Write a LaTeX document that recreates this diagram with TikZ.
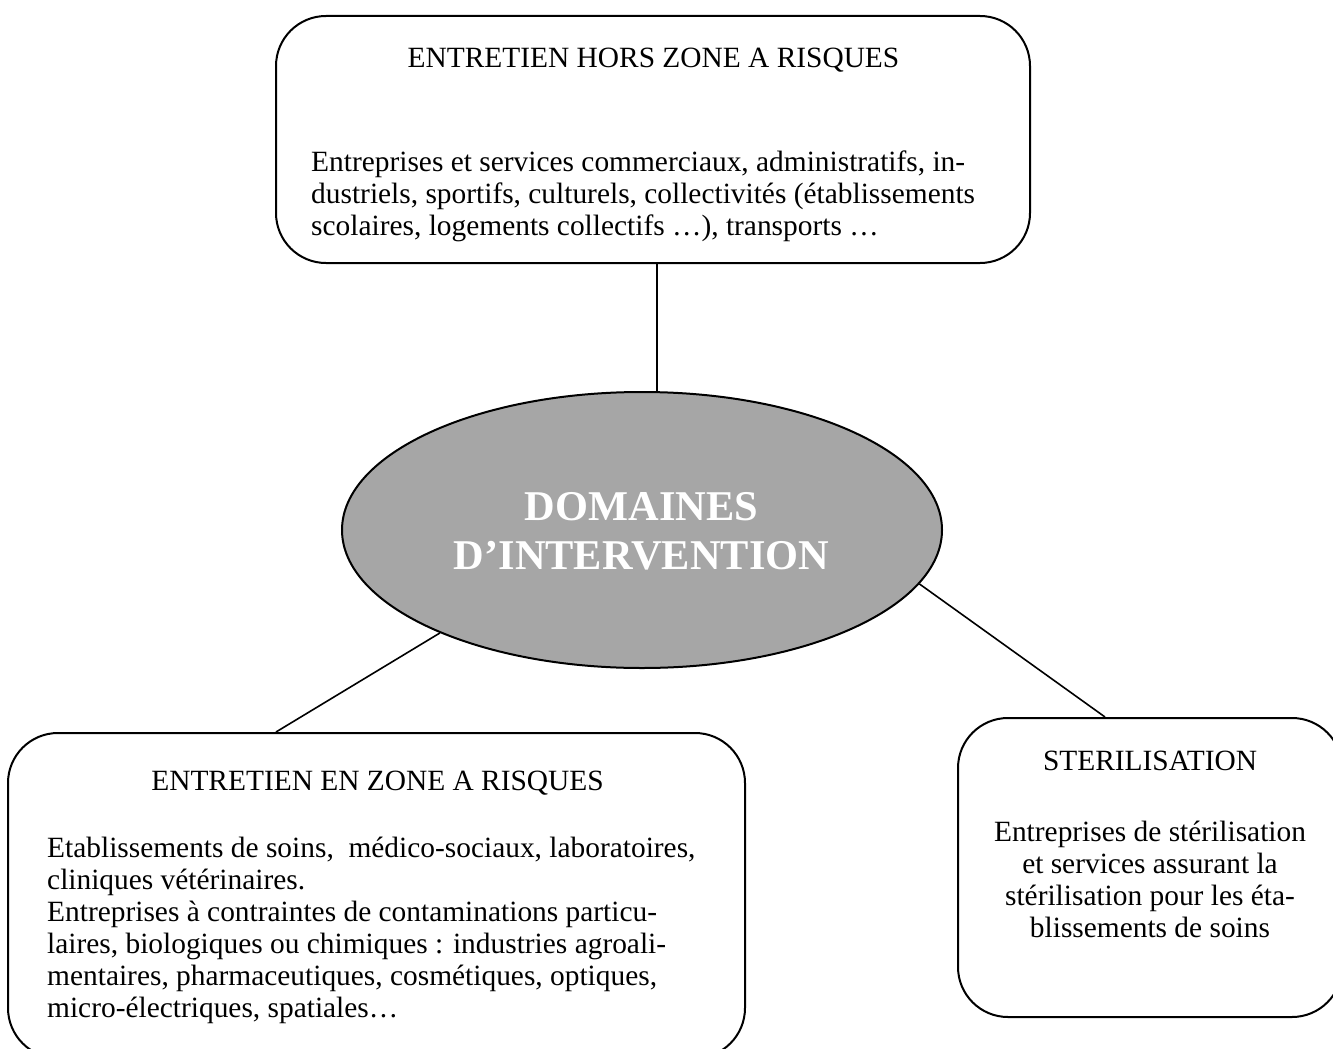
\documentclass[tikz,border=0pt]{standalone}
\usepackage{fontspec}
\setmainfont{Liberation Serif}
\usetikzlibrary{shapes.geometric,calc}
\definecolor{ellgray}{RGB}{166,166,166}
\begin{document}
\begin{tikzpicture}[x=1pt,y=-1pt,
  box/.style={draw,line width=2pt,rounded corners=50pt,inner sep=0pt},
  conn/.style={draw,line width=1.6pt},
  txt/.style={inner sep=0pt,font=\fontsize{29.4}{32}\selectfont},
  bigtxt/.style={inner sep=0pt,text=white,font=\fontsize{42.4}{49}\selectfont\bfseries}]
\useasboundingbox (0,0) rectangle (1333,1049);
\fill[white] (0,0) rectangle (1333,1049);
% boxes
\node[box,minimum width=754pt,minimum height=247pt] (topbox) at (653,139.5) {};
\node[box,minimum width=737pt,minimum height=325pt] (blbox) at (376.5,895.5) {};
\node[box,minimum width=384pt,minimum height=299pt] (rbox) at (1150,867.5) {};
\node[ellipse,draw,line width=2pt,fill=ellgray,minimum width=600pt,minimum height=276pt,inner sep=0pt] (ell) at (642,530) {};
% connectors
\coordinate (t1) at ($(topbox.south)+(4,0)$);
\coordinate (b1) at ($(blbox.north)+(-100.5,0)$);
\coordinate (r1) at ($(rbox.north west)+(148,0)$);
\draw[conn] (t1) -- (t1 |- ell.north);
\draw[conn] (ell.207) -- (b1);
\draw[conn] (ell.349) -- (r1);
% texts (anchor base = baseline of the last line)
\node[txt,anchor=base] (toptitle) at (653.5,67) {ENTRETIEN HORS ZONE A RISQUES};
\node[txt,anchor=base west,align=left] (topbody) at (311,235) {Entreprises et services commerciaux, administratifs, in-\\dustriels, sportifs, culturels, collectivités (établissements\\scolaires, logements collectifs …), transports …};
\node[txt,anchor=base] (bltitle) at (377.5,790) {ENTRETIEN EN ZONE A RISQUES};
\node[txt,anchor=base west,align=left] (blbody) at (47,1017) {Etablissements de soins,\ \ médico-sociaux, laboratoires,\\cliniques vétérinaires.\\Entreprises à contraintes de contaminations particu-\\laires, biologiques ou chimiques : industries agroali-\\mentaires, pharmaceutiques, cosmétiques, optiques,\\micro-électriques, spatiales…};
\node[txt,anchor=base] (rtitle) at (1150,770) {STERILISATION};
\node[txt,anchor=base,align=center] (rbody) at (1150,937) {Entreprises de stérilisation\\et services assurant la\\stérilisation pour les éta-\\blissements de soins};
\node[bigtxt,anchor=base,align=center] (elltxt) at (641.5,569) {DOMAINES\\D’INTERVENTION};
\end{tikzpicture}
\end{document}
